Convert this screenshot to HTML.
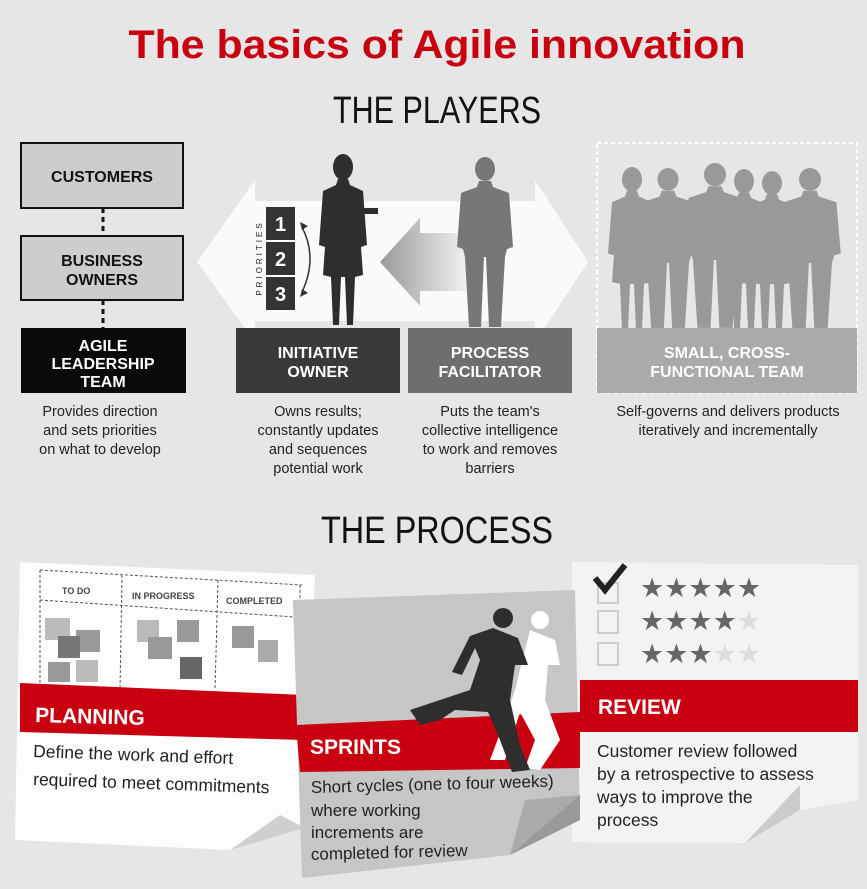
<!DOCTYPE html>
<html><head><meta charset="utf-8"><style>
html,body{margin:0;padding:0;background:#e6e6e6;}
svg{display:block;font-family:"Liberation Sans",sans-serif;}
</style></head><body>
<svg width="867" height="889" viewBox="0 0 867 889" xmlns="http://www.w3.org/2000/svg">
<defs>
<linearGradient id="ga" x1="0" x2="1"><stop offset="0" stop-color="#9a9a9a"/><stop offset="1" stop-color="#f4f4f4"/></linearGradient>
<g id="man">
<ellipse cx="0" cy="12" rx="10" ry="12"/>
<path d="M-6 24 L6 24 L8 30 L24 36 L28 90 L22 92 L20 100 L16 170 L4 170 L1 100 L-1 100 L-4 170 L-16 170 L-20 100 L-22 92 L-28 90 L-24 36 L-8 30 Z"/>
</g>
<g id="woman">
<ellipse cx="0" cy="12" rx="10" ry="13"/>
<path d="M-5 24 L5 24 L7 30 L20 36 L24 90 L18 92 L20 120 L12 122 L10 170 L4 170 L2 122 L-2 122 L-4 170 L-10 170 L-12 122 L-20 120 L-18 92 L-24 90 L-20 36 L-7 30 Z"/>
</g>
</defs>
<rect width="867" height="889" fill="#e6e6e6"/>
<text x="437" y="58" text-anchor="middle" font-size="40" font-weight="bold" fill="#c8000f" textLength="617" lengthAdjust="spacingAndGlyphs">The basics of Agile innovation</text>
<text x="437" y="123" text-anchor="middle" font-size="38" fill="#111" textLength="208" lengthAdjust="spacingAndGlyphs">THE PLAYERS</text>

<rect x="21" y="143" width="162" height="65" fill="#cdcdcd" stroke="#111" stroke-width="2"/>
<text x="102" y="182" text-anchor="middle" font-size="16" font-weight="bold" fill="#111">CUSTOMERS</text>
<line x1="103" y1="208" x2="103" y2="236" stroke="#111" stroke-width="3" stroke-dasharray="5,4"/>
<rect x="21" y="236" width="162" height="64" fill="#cdcdcd" stroke="#111" stroke-width="2"/>
<text x="102" y="266" text-anchor="middle" font-size="16" font-weight="bold" fill="#111">BUSINESS</text>
<text x="102" y="285" text-anchor="middle" font-size="16" font-weight="bold" fill="#111">OWNERS</text>
<line x1="103" y1="300" x2="103" y2="328" stroke="#111" stroke-width="3" stroke-dasharray="5,4"/>
<rect x="21" y="328" width="165" height="65" fill="#0a0a0a"/>
<text x="103" y="351" text-anchor="middle" font-size="16" font-weight="bold" fill="#fff">AGILE</text>
<text x="103" y="369" text-anchor="middle" font-size="16" font-weight="bold" fill="#fff">LEADERSHIP</text>
<text x="103" y="387" text-anchor="middle" font-size="16" font-weight="bold" fill="#fff">TEAM</text>

<path d="M197 262 L255 180 L255 201 L535 201 L535 180 L588 262 L535 342 L535 321 L255 321 L255 342 Z" fill="#fafafa"/>
<path d="M380 262 L420 218 L420 233 L470 233 L470 291 L420 291 L420 306 Z" fill="url(#ga)"/>

<text transform="translate(262,258) rotate(-90)" text-anchor="middle" font-size="8" letter-spacing="3" fill="#222">PRIORITIES</text>
<rect x="266" y="207" width="29" height="33" fill="#333"/>
<rect x="266" y="242" width="29" height="33" fill="#333"/>
<rect x="266" y="277" width="29" height="33" fill="#333"/>
<text x="280.5" y="231" text-anchor="middle" font-size="20" font-weight="bold" fill="#fff">1</text>
<text x="280.5" y="266" text-anchor="middle" font-size="20" font-weight="bold" fill="#fff">2</text>
<text x="280.5" y="301" text-anchor="middle" font-size="20" font-weight="bold" fill="#fff">3</text>
<path d="M302 227 Q318 258 302 292" fill="none" stroke="#333" stroke-width="1.5"/>
<path d="M300 222 L308 226 L302 230 Z M300 297 L308 293 L302 289 Z" fill="#333"/>

<use href="#woman" transform="translate(343,155)" fill="#2e2e2e"/>
<rect x="350" y="208" width="28" height="6" fill="#2e2e2e"/>
<use href="#man" transform="translate(485,157)" fill="#777"/>

<rect x="597" y="143" width="260" height="250" fill="none" stroke="#fff" stroke-width="2" stroke-dasharray="4,3"/>
<g fill="#999">
<use href="#woman" transform="translate(632,168) scale(1,0.95)"/>
<use href="#man" transform="translate(668,168) scale(1.05,0.95)"/>
<use href="#man" transform="translate(715,163) scale(1.1,0.97)"/>
<use href="#woman" transform="translate(744,170) scale(1,0.93)"/>
<use href="#woman" transform="translate(772,172) scale(1,0.92)"/>
<use href="#man" transform="translate(810,168) scale(1.1,0.95)"/>
</g>
<rect x="597" y="328" width="260" height="65" fill="#aaaaaa"/>
<rect x="236" y="328" width="164" height="65" fill="#3a3a3a"/>
<rect x="408" y="328" width="164" height="65" fill="#6e6e6e"/>
<text x="318" y="358" text-anchor="middle" font-size="16" font-weight="bold" fill="#fff">INITIATIVE</text>
<text x="318" y="377" text-anchor="middle" font-size="16" font-weight="bold" fill="#fff">OWNER</text>
<text x="490" y="358" text-anchor="middle" font-size="16" font-weight="bold" fill="#fff">PROCESS</text>
<text x="490" y="377" text-anchor="middle" font-size="16" font-weight="bold" fill="#fff">FACILITATOR</text>
<text x="727" y="358" text-anchor="middle" font-size="16" font-weight="bold" fill="#fff">SMALL, CROSS-</text>
<text x="727" y="377" text-anchor="middle" font-size="16" font-weight="bold" fill="#fff">FUNCTIONAL TEAM</text>

<g font-size="14.5" fill="#222" text-anchor="middle">
<text x="100" y="416">Provides direction</text>
<text x="100" y="435">and sets priorities</text>
<text x="100" y="454">on what to develop</text>
<text x="318" y="416">Owns results;</text>
<text x="318" y="435">constantly updates</text>
<text x="318" y="454">and sequences</text>
<text x="318" y="473">potential work</text>
<text x="490" y="416">Puts the team's</text>
<text x="490" y="435">collective intelligence</text>
<text x="490" y="454">to work and removes</text>
<text x="490" y="473">barriers</text>
<text x="728" y="416">Self-governs and delivers products</text>
<text x="728" y="435">iteratively and incrementally</text>
</g>

<text x="437" y="543" text-anchor="middle" font-size="38" fill="#111" textLength="232" lengthAdjust="spacingAndGlyphs">THE PROCESS</text>

<path d="M20 562 L315 575 L305 828 L230 850 L15 840 Z" fill="#fdfdfd"/>
<path d="M230 850 L305 828 L280 815 Z" fill="#cfcfcf"/>
<g stroke="#555" stroke-width="1" stroke-dasharray="3,2" fill="none">
<path d="M40 570 L302 585"/>
<path d="M40 600 L295 617"/>
<path d="M40 570 L40 685 M122 575 L120 690 M218 580 L215 690 M300 585 L300 690"/>
</g>
<g font-size="9" font-weight="bold" fill="#444">
<text x="62" y="594">TO DO</text><text x="132" y="599">IN PROGRESS</text><text x="226" y="604">COMPLETED</text>
</g>
<g>
<rect x="45" y="618" width="25" height="22" fill="#bbb"/><rect x="76" y="630" width="24" height="22" fill="#999"/>
<rect x="58" y="636" width="22" height="22" fill="#777"/><rect x="48" y="662" width="22" height="20" fill="#999"/>
<rect x="76" y="660" width="22" height="22" fill="#bbb"/>
<rect x="137" y="620" width="22" height="22" fill="#bbb"/><rect x="177" y="620" width="22" height="22" fill="#999"/>
<rect x="148" y="637" width="24" height="22" fill="#999"/><rect x="180" y="657" width="22" height="22" fill="#666"/>
<rect x="232" y="626" width="22" height="22" fill="#999"/><rect x="258" y="640" width="20" height="22" fill="#aaa"/>
</g>
<path d="M20 683 L305 695 L305 740 L20 732 Z" fill="#c8000f"/>
<text x="35" y="722" font-size="21" font-weight="bold" fill="#fff" transform="rotate(1.5 35 722)">PLANNING</text>
<g font-size="17.5" fill="#222">
<text x="33" y="757" transform="rotate(2 33 757)">Define the work and effort</text>
<text x="33" y="785" transform="rotate(2 33 785)">required to meet commitments</text>
</g>

<path d="M572 562 L858 565 L858 800 L800 810 L745 843 L572 842 Z" fill="#f3f3f4"/>
<path d="M745 843 L800 810 L800 785 Z" fill="#ccc"/>
<g fill="none" stroke="#ccc" stroke-width="2">
<rect x="598" y="583" width="20" height="20"/><rect x="598" y="611" width="20" height="22"/><rect x="598" y="643" width="20" height="22"/>
</g>
<path d="M595 578 L605 590 L625 565" fill="none" stroke="#222" stroke-width="6"/>
<g font-size="27" fill="#666">
<text x="640" y="597">★★★★★</text>
<text x="640" y="630">★★★★<tspan fill="#ddd">★</tspan></text>
<text x="640" y="663">★★★<tspan fill="#ddd">★★</tspan></text>
</g>
<rect x="580" y="680" width="278" height="52" fill="#c8000f"/>
<text x="598" y="714" font-size="21" font-weight="bold" fill="#fff">REVIEW</text>
<g font-size="17.5" fill="#222">
<text x="597" y="757">Customer review followed</text>
<text x="597" y="780">by a retrospective to assess</text>
<text x="597" y="803">ways to improve the</text>
<text x="597" y="826">process</text>
</g>

<path d="M293 600 L575 590 L580 820 L510 855 L302 878 Z" fill="#c6c6c6"/>
<path d="M510 855 L580 795 L580 820 Z" fill="#999"/>
<path d="M510 855 L525 800 L580 795 Z" fill="#aaa"/>
<path d="M296 725 L580 712 L580 768 L300 772 Z" fill="#c8000f"/>
<text x="310" y="754" font-size="21" font-weight="bold" fill="#fff">SPRINTS</text>
<g fill="#fff"><circle cx="540" cy="620" r="9"/><path d="M530 630 L555 640 L560 665 L548 665 L545 700 L560 740 L540 770 L525 768 L535 740 L520 712 L505 760 L490 760 L505 720 L515 690 L525 650 Z"/></g>
<g fill="#2e2e2e"><circle cx="503" cy="618" r="10"/><path d="M493 628 L518 638 L528 665 L515 665 L510 700 L520 745 L530 770 L512 772 L500 740 L488 712 L455 710 L440 720 L420 725 L410 710 L440 700 L470 690 L480 660 L475 648 L462 675 L452 672 L470 636 Z"/></g>
<g font-size="17" fill="#222">
<text x="311" y="793" transform="rotate(-1.5 311 793)">Short cycles (one to four weeks)</text>
<text x="311" y="816">where working</text>
<text x="311" y="838">increments are</text>
<text x="311" y="860" transform="rotate(-1.5 311 860)">completed for review</text>
</g>
</svg>
</body></html>
